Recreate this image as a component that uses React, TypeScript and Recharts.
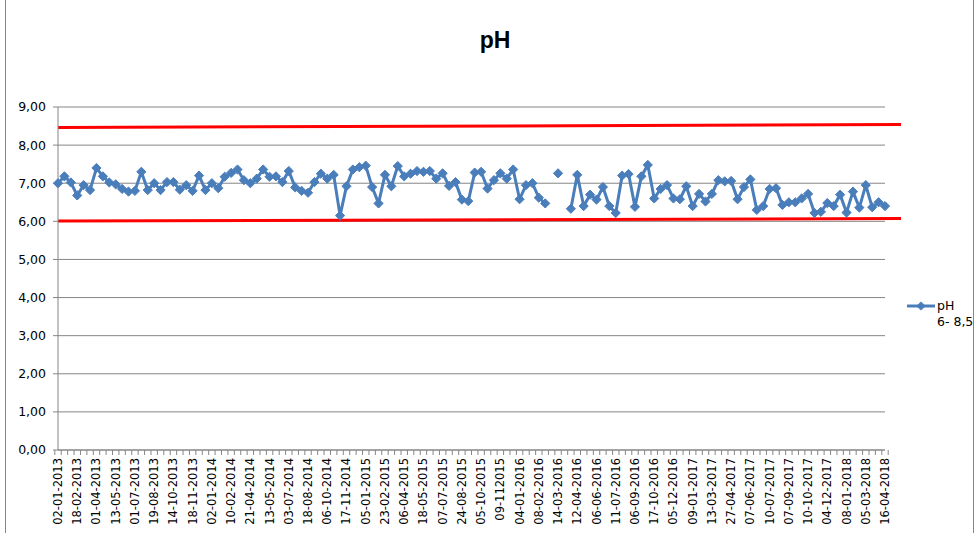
import React from "react";
import {
  LineChart,
  Line,
  XAxis,
  YAxis,
  CartesianGrid,
  ReferenceLine,
} from "recharts";

// every 3rd category is labelled on the axis
const dateLabels = [
  "02-01-2013", "18-02-2013", "01-04-2013", "13-05-2013", "01-07-2013",
  "19-08-2013", "14-10-2013", "18-11-2013", "02-01-2014", "10-02-2014",
  "21-04-2014", "13-05-2014", "03-07-2014", "18-08-2014", "06-10-2014",
  "17-11-2014", "05-01-2015", "23-02-2015", "06-04-2015", "18-05-2015",
  "07-07-2015", "24-08-2015", "05-10-2015", "09-112015", "04-01-2016",
  "08-02-2016", "14-03-2016", "12-04-2016", "06-06-2016", "11-07-2016",
  "06-09-2016", "17-10-2016", "05-12-2016", "09-01-2017", "13-03-2017",
  "27-04-2017", "07-06-2017", "10-07-2017", "07-09-2017", "10-10-2017",
  "04-12-2017", "08-01-2018", "05-03-2018", "16-04-2018",
];

const phValues: (number | null)[] = [
  7.0, 7.18, 7.02, 6.68, 6.95, 6.82, 7.4, 7.18, 7.02, 6.97,
  6.85, 6.78, 6.8, 7.3, 6.82, 7.0, 6.82, 7.03, 7.03, 6.83,
  6.95, 6.8, 7.2, 6.82, 7.0, 6.87, 7.17, 7.27, 7.36, 7.08,
  7.0, 7.12, 7.36, 7.17, 7.18, 7.03, 7.32, 6.89, 6.8, 6.75,
  7.03, 7.25, 7.12, 7.22, 6.15, 6.92, 7.36, 7.42, 7.46, 6.9,
  6.47, 7.22, 6.92, 7.45, 7.18, 7.25, 7.32, 7.3, 7.32, 7.12,
  7.26, 6.93, 7.03, 6.57, 6.53, 7.28, 7.3, 6.86, 7.08, 7.26,
  7.12, 7.36, 6.58, 6.95, 7.0, 6.62, 6.47, null, 7.26, null,
  6.33, 7.22, 6.4, 6.7, 6.57, 6.9, 6.4, 6.22, 7.2, 7.24,
  6.38, 7.18, 7.48, 6.6, 6.85, 6.95, 6.6, 6.58, 6.92, 6.4,
  6.72, 6.52, 6.72, 7.08, 7.05, 7.06, 6.58, 6.9, 7.1, 6.3,
  6.4, 6.85, 6.87, 6.43, 6.5, 6.5, 6.6, 6.72, 6.22, 6.25,
  6.48, 6.4, 6.7, 6.23, 6.78, 6.36, 6.95, 6.37, 6.5, 6.4,
];

const yTicks = [0, 1, 2, 3, 4, 5, 6, 7, 8, 9];
const upperLimit = [8.46, 8.54];
const lowerLimit = [6.01, 6.07];

const BLUE = "#4A7EBB";
const GRAY = "#868686";
const FONT = "'DejaVu Sans', Verdana, sans-serif";
const BAND = 827 / phValues.length;

const data = phValues.map((v, i) => ({ i, ph: v }));

const Diamond = (props: any) => {
  const { cx, cy, value } = props;
  if (value == null || cy == null) return null;
  const r = 4.6;
  return (
    <polygon
      key={`d-${props.index}`}
      points={`${cx},${cy - r} ${cx + r},${cy} ${cx},${cy + r} ${cx - r},${cy}`}
      fill={BLUE}
      stroke={BLUE}
    />
  );
};

const DateTick = (props: any) => {
  const { x, y, payload } = props;
  const i = payload.value as number;
  const left = x - BAND / 2;
  return (
    <g>
      <line x1={left} y1={y} x2={left} y2={y + 5} stroke={GRAY} />
      {i === phValues.length - 1 && (
        <line x1={x + BAND / 2} y1={y} x2={x + BAND / 2} y2={y + 5} stroke={GRAY} />
      )}
      {i % 3 === 0 && (
        <text
          x={0}
          y={0}
          transform={`translate(${x + 4},${y + 8}) rotate(-90)`}
          textAnchor="end"
          fontSize={11.5}
          fontFamily={FONT}
          fill="#000"
        >
          {dateLabels[i / 3]}
        </text>
      )}
    </g>
  );
};

// red limit lines run a little past the plot area, like in the sheet
const extendedLine = (p: any) => {
  const ext = 16;
  const slope = (p.y2 - p.y1) / (p.x2 - p.x1);
  return (
    <line
      x1={p.x1}
      y1={p.y1}
      x2={p.x2 + ext}
      y2={p.y2 + slope * ext}
      stroke="#FF0000"
      strokeWidth={3}
    />
  );
};

const LegendBox = () => (
  <div
    style={{
      position: "absolute",
      left: 905,
      top: 298,
      fontFamily: FONT,
      fontSize: 12.5,
      color: "#000",
      lineHeight: "16px",
    }}
  >
    <div style={{ display: "flex", alignItems: "center" }}>
      <svg width={32} height={14}>
        <line x1={2} y1={7} x2={30} y2={7} stroke={BLUE} strokeWidth={3} />
        <polygon points="16,2.4 20.6,7 16,11.6 11.4,7" fill={BLUE} />
      </svg>
      <span>pH</span>
    </div>
    <div style={{ paddingLeft: 32 }}>6- 8,5</div>
  </div>
);

export default function App() {
  return (
    <div
      style={{
        position: "absolute",
        left: 0,
        top: 0,
        width: 975,
        height: 533,
        background: "#fff",
        overflow: "hidden",
      }}
    >
      <div
        style={{
          position: "absolute",
          left: 5,
          top: 0,
          width: 967,
          height: 533,
          borderLeft: `1px solid ${GRAY}`,
          borderRight: `1px solid ${GRAY}`,
        }}
      />
      <div
        style={{
          position: "absolute",
          left: 445,
          width: 100,
          top: 27,
          textAlign: "center",
          fontFamily: "'Liberation Sans', Arial, sans-serif",
          fontWeight: "bold",
          fontSize: 23,
        }}
      >
        pH
      </div>
      <LineChart
        width={975}
        height={533}
        data={data}
        margin={{ top: 107, right: 90, bottom: 0, left: 0 }}
      >
        <CartesianGrid vertical={false} stroke={GRAY} strokeWidth={1} />
        <XAxis
          dataKey="i"
          type="category"
          interval={0}
          height={83}
          tickLine={false}
          tickSize={0}
          tickMargin={0}
          axisLine={{ stroke: GRAY }}
          tick={<DateTick />}
        />
        <YAxis
          width={58}
          domain={[0, 9]}
          ticks={yTicks}
          interval={0}
          tickSize={5}
          tickMargin={7}
          axisLine={{ stroke: GRAY }}
          tickLine={{ stroke: GRAY }}
          tick={{ fill: "#000", fontSize: 12.5, fontFamily: FONT }}
          tickFormatter={(v: number) => v.toFixed(2).replace(".", ",")}
        />
        <ReferenceLine
          segment={[
            { x: 0, y: upperLimit[0] },
            { x: phValues.length - 1, y: upperLimit[1] },
          ]}
          ifOverflow="visible"
          shape={extendedLine}
        />
        <ReferenceLine
          segment={[
            { x: 0, y: lowerLimit[0] },
            { x: phValues.length - 1, y: lowerLimit[1] },
          ]}
          ifOverflow="visible"
          shape={extendedLine}
        />
        <Line
          dataKey="ph"
          name="pH"
          stroke={BLUE}
          strokeWidth={3}
          dot={<Diamond />}
          activeDot={false}
          connectNulls={false}
          isAnimationActive={false}
        />
      </LineChart>
      <LegendBox />
    </div>
  );
}
